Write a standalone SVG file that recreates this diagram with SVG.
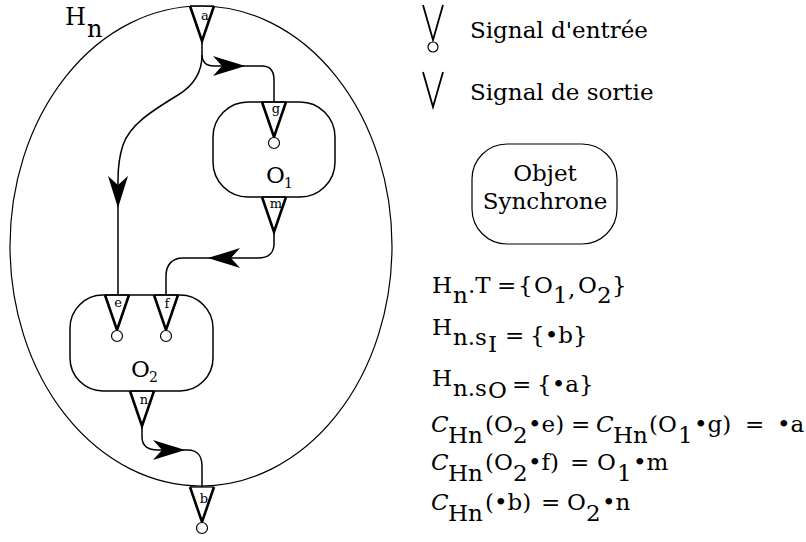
<svg xmlns="http://www.w3.org/2000/svg" xmlns:xlink="http://www.w3.org/1999/xlink" width="806" height="542" viewBox="0 0 806 542">
<style>
.t{font-family:"DejaVu Serif","Liberation Serif",serif;fill:#000}
.big{font-size:23px}
.f{font-size:23px}
.lbl{font-size:13px;text-anchor:middle}
.cal{font-style:italic}
.thin{fill:none;stroke:#000;stroke-width:1.2}
.box{fill:none;stroke:#000;stroke-width:1.5}
.v{fill:none;stroke:#000;stroke-width:2.6;stroke-linejoin:miter}
.vtop{fill:none;stroke:#000;stroke-width:1.3}
.pin{fill:#fff;stroke:#000;stroke-width:1.2}
.wire{fill:none;stroke:#000;stroke-width:1.5}
.head{fill:#000;stroke:none}
</style>
<defs>
<g id="outTri"><path class="vtop" d="M-12,0 L12,0"/><path class="v" d="M-12,0 L0,35 L12,0"/></g>
<g id="inTri"><use xlink:href="#outTri"/><circle class="pin" cx="0" cy="41" r="5.5"/></g>
<path id="arrowR" class="head" d="M0,0 C-10,-3 -22,-7 -32,-10 L-23,0 L-32,10 C-22,7 -10,3 0,0 Z"/>
</defs>
<rect width="806" height="542" fill="#fff"/>

<g id="Hn">
<ellipse class="thin" cx="201" cy="246" rx="191" ry="240"/>
<text class="t" font-size="24" x="65" y="25">H<tspan x="87" y="37">n</tspan></text>
<use xlink:href="#outTri" x="202" y="6"/>
<text class="t lbl" x="205" y="20">a</text>
<use xlink:href="#inTri" x="202" y="487"/>
<text class="t lbl" x="204" y="503">b</text>
</g>

<g id="O1">
<rect class="box" x="213" y="102" width="122" height="95" rx="35"/>
<use xlink:href="#inTri" x="274" y="102"/>
<text class="t lbl" x="276" y="113">g</text>
<text class="t big" x="266" y="183">O<tspan x="284" y="188" font-size="14">1</tspan></text>
<use xlink:href="#outTri" x="274" y="197"/>
<text class="t lbl" x="276" y="208">m</text>
</g>

<g id="O2">
<rect class="box" x="70" y="295" width="143" height="96" rx="33"/>
<use xlink:href="#inTri" x="117" y="295"/>
<text class="t lbl" x="118" y="307">e</text>
<use xlink:href="#inTri" x="166" y="295"/>
<text class="t lbl" x="167" y="308">f</text>
<text class="t big" x="131" y="377">O<tspan x="149" y="382" font-size="14">2</tspan></text>
<use xlink:href="#outTri" x="142" y="391"/>
<text class="t lbl" x="144" y="404">n</text>
</g>

<g id="connectors">
<path class="wire" d="M202,42 L202,54 C202,62 206,66 214,66 L262,66 C270,66 274,71 274,80 L274,102"/>
<use xlink:href="#arrowR" transform="translate(245,66)"/>
<path class="wire" d="M202,55 C202,70 196,84 178,95 C150,112 130,125 123,145 C119,157 118,170 118,180 L118,295"/>
<use xlink:href="#arrowR" transform="translate(118,208) rotate(90)"/>
<path class="wire" d="M274,233 L274,244 C274,253 268,258 258,258 L183,258 C172,258 166,265 166,276 L166,295"/>
<use xlink:href="#arrowR" transform="translate(208,258) rotate(180)"/>
<path class="wire" d="M142,426 L142,437 C142,446 148,450 158,450 L188,450 C197,450 202,456 202,466 L202,487"/>
<use xlink:href="#arrowR" transform="translate(185,450)"/>
</g>

<g id="legend">
<path class="thin" style="stroke-width:1.8" d="M423,5 L433,40 L443,5"/>
<circle class="pin" cx="433" cy="47" r="5"/>
<text class="t big" x="470" y="38">Signal d'entrée</text>
<path class="thin" style="stroke-width:1.8" d="M423,72 L433,107 L443,72"/>
<text class="t big" x="470" y="100">Signal de sortie</text>
<g id="objet">
<rect class="box" style="stroke-width:1.2" x="472" y="144" width="145" height="100" rx="35"/>
<text class="t big" x="545" y="181" text-anchor="middle">Objet</text>
<text class="t big" x="545" y="209" text-anchor="middle">Synchrone</text>
</g>
</g>

<g id="formulas">
<text class="t f"><tspan x="432" y="293">H</tspan><tspan x="453" y="303">n</tspan><tspan x="468" y="293">.T</tspan><tspan x="497">=</tspan><tspan x="518">{</tspan><tspan x="534">O</tspan><tspan x="553" y="303">1</tspan><tspan x="568" y="297">,</tspan><tspan x="578" y="293">O</tspan><tspan x="597" y="303">2</tspan><tspan x="612" y="293">}</tspan></text>
<text class="t f"><tspan x="432" y="335">H</tspan><tspan x="453" y="345">n.s</tspan><tspan x="488" y="352">I</tspan><tspan x="505" y="343">=</tspan><tspan x="530">{•b}</tspan></text>
<text class="t f"><tspan x="432" y="386">H</tspan><tspan x="453" y="396">n.s</tspan><tspan x="488" y="398">O</tspan><tspan x="512" y="392">=</tspan><tspan x="537">{•a}</tspan></text>
<text class="t f"><tspan class="cal" x="431" y="432">C</tspan><tspan x="448" y="443">Hn</tspan><tspan x="485" y="432">(</tspan><tspan x="494">O</tspan><tspan x="513" y="443">2</tspan><tspan x="528" y="432">•e)</tspan><tspan x="571">=</tspan><tspan class="cal" x="596">C</tspan><tspan x="613" y="443">Hn</tspan><tspan x="649" y="432">(</tspan><tspan x="658">O</tspan><tspan x="678" y="443">1</tspan><tspan x="694" y="432">•g)</tspan><tspan x="745">=</tspan><tspan x="777">•a</tspan></text>
<text class="t f"><tspan class="cal" x="431" y="470">C</tspan><tspan x="448" y="481">Hn</tspan><tspan x="485" y="470">(</tspan><tspan x="494">O</tspan><tspan x="513" y="481">2</tspan><tspan x="528" y="470">•f)</tspan><tspan x="570">=</tspan><tspan x="597">O</tspan><tspan x="617" y="481">1</tspan><tspan x="633" y="470">•m</tspan></text>
<text class="t f"><tspan class="cal" x="431" y="510">C</tspan><tspan x="448" y="521">Hn</tspan><tspan x="485" y="510">(•b)</tspan><tspan x="541">=</tspan><tspan x="567">O</tspan><tspan x="586" y="521">2</tspan><tspan x="602" y="510">•n</tspan></text>
</g>
</svg>
